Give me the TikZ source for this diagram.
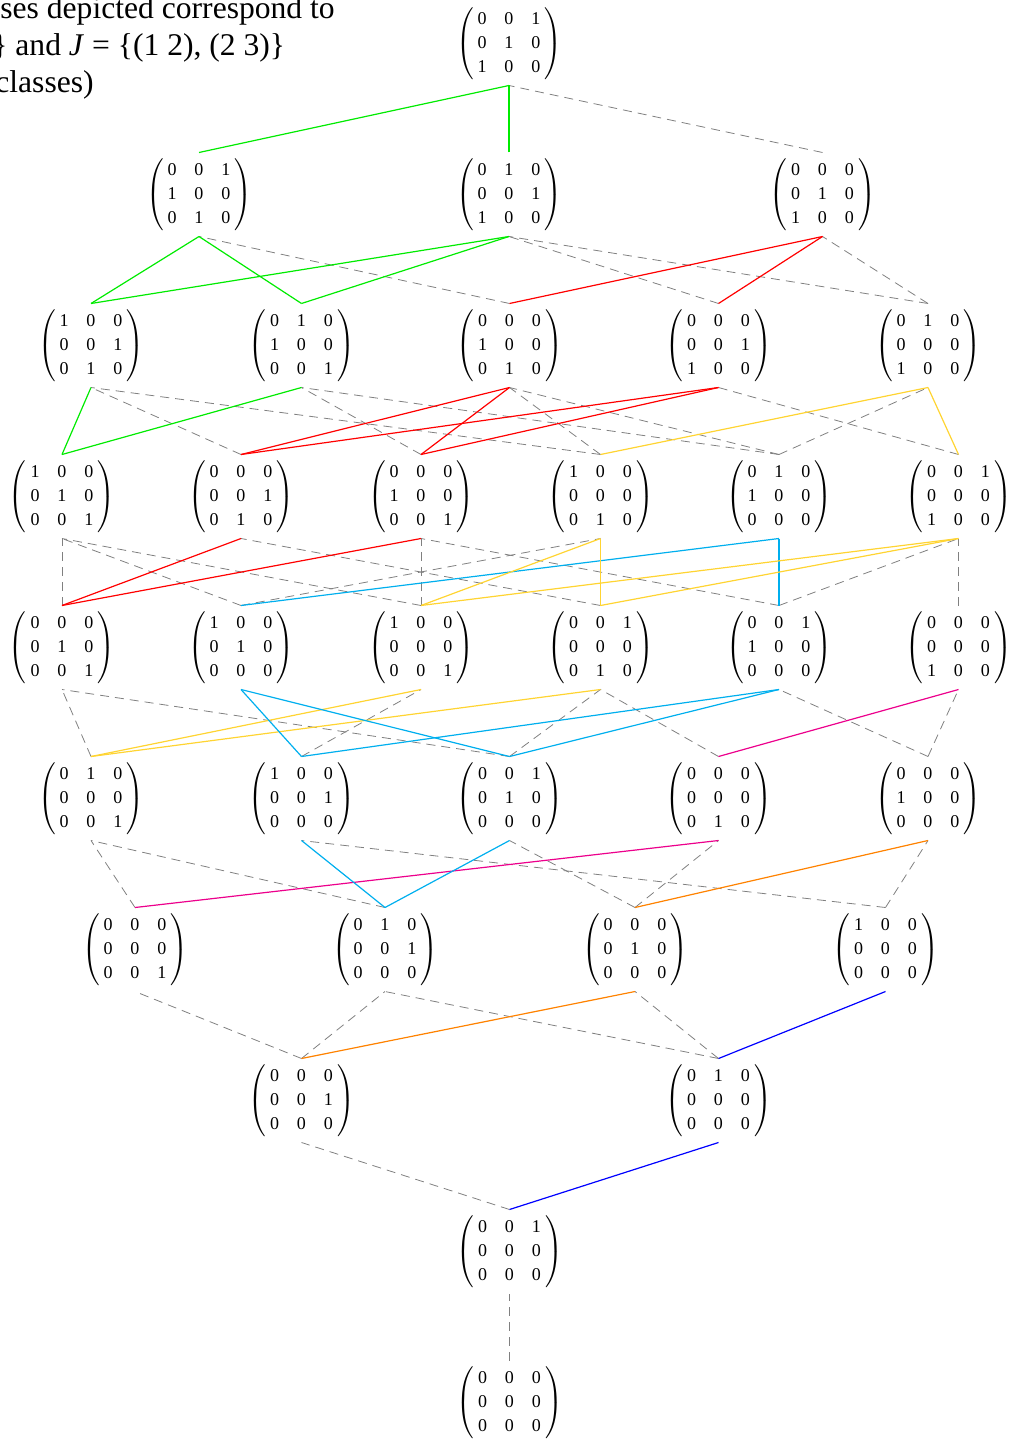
\documentclass[tikz,border=0pt]{standalone}
\usepackage{fontspec}
\setmainfont{Liberation Serif}
\definecolor{cgreen}{RGB}{0,235,0}
\definecolor{cred}{RGB}{255,0,0}
\definecolor{cyel}{RGB}{255,212,50}
\definecolor{ccyan}{RGB}{0,175,238}
\definecolor{cmag}{RGB}{236,0,140}
\definecolor{corange}{RGB}{255,130,0}
\definecolor{cblue}{RGB}{0,0,255}
\newcommand{\rmat}[9]{{\fontsize{9}{12}\selectfont$\left(\begin{tabular}{@{\hspace{2pt}}c@{\hspace{9pt}}c@{\hspace{9pt}}c@{\hspace{2pt}}}#1&#2&#3\\#4&#5&#6\\#7&#8&#9\end{tabular}\right)$}}
\tikzset{
  mat/.style={inner xsep=0pt, inner ysep=3pt, outer sep=0pt},
  dl/.style={gray, dash pattern=on 4.5pt off 3pt, line width=0.4pt},
  ce/.style={line width=0.6pt},
  title/.style={anchor=base west, inner sep=0pt, font=\fontsize{15.8}{18.5}\selectfont}
}
\begin{document}
\begin{tikzpicture}[x=0.5pt, y=-0.5pt]
\useasboundingbox (0,0) rectangle (1011,1439);
% title (clipped at the left edge)
\node[title] (t1) at (0,19) {ses depicted correspond to};
\node[title] (t2) at (-8,56) {\} and \textit{J} = \{(1 2), (2 3)\}};
\node[title] (t3) at (-5,93) {classes)};
% row 0
\node[mat] (r0) at (509,43.5) {\rmat{0}{0}{1}{0}{1}{0}{1}{0}{0}};
% row 1
\node[mat] (r1a) at (199,194.5) {\rmat{0}{0}{1}{1}{0}{0}{0}{1}{0}};
\node[mat] (r1b) at (509,194.5) {\rmat{0}{1}{0}{0}{0}{1}{1}{0}{0}};
\node[mat] (r1c) at (822.5,194.5) {\rmat{0}{0}{0}{0}{1}{0}{1}{0}{0}};
% row 2
\node[mat] (r2a) at (91,345.5) {\rmat{1}{0}{0}{0}{0}{1}{0}{1}{0}};
\node[mat] (r2b) at (301.5,345.5) {\rmat{0}{1}{0}{1}{0}{0}{0}{0}{1}};
\node[mat] (r2c) at (509.5,345.5) {\rmat{0}{0}{0}{1}{0}{0}{0}{1}{0}};
\node[mat] (r2d) at (718.5,345.5) {\rmat{0}{0}{0}{0}{0}{1}{1}{0}{0}};
\node[mat] (r2e) at (928,345.5) {\rmat{0}{1}{0}{0}{0}{0}{1}{0}{0}};
% row 3
\node[mat] (r3a) at (62,496.5) {\rmat{1}{0}{0}{0}{1}{0}{0}{0}{1}};
\node[mat] (r3b) at (241,496.5) {\rmat{0}{0}{0}{0}{0}{1}{0}{1}{0}};
\node[mat] (r3c) at (421,496.5) {\rmat{0}{0}{0}{1}{0}{0}{0}{0}{1}};
\node[mat] (r3d) at (600.5,496.5) {\rmat{1}{0}{0}{0}{0}{0}{0}{1}{0}};
\node[mat] (r3e) at (779,496.5) {\rmat{0}{1}{0}{1}{0}{0}{0}{0}{0}};
\node[mat] (r3f) at (958.5,496.5) {\rmat{0}{0}{1}{0}{0}{0}{1}{0}{0}};
% row 4
\node[mat] (r4a) at (62,647.5) {\rmat{0}{0}{0}{0}{1}{0}{0}{0}{1}};
\node[mat] (r4b) at (241,647.5) {\rmat{1}{0}{0}{0}{1}{0}{0}{0}{0}};
\node[mat] (r4c) at (421,647.5) {\rmat{1}{0}{0}{0}{0}{0}{0}{0}{1}};
\node[mat] (r4d) at (600.5,647.5) {\rmat{0}{0}{1}{0}{0}{0}{0}{1}{0}};
\node[mat] (r4e) at (779,647.5) {\rmat{0}{0}{1}{1}{0}{0}{0}{0}{0}};
\node[mat] (r4f) at (958.5,647.5) {\rmat{0}{0}{0}{0}{0}{0}{1}{0}{0}};
% row 5
\node[mat] (r5a) at (91,798.5) {\rmat{0}{1}{0}{0}{0}{0}{0}{0}{1}};
\node[mat] (r5b) at (301.5,798.5) {\rmat{1}{0}{0}{0}{0}{1}{0}{0}{0}};
\node[mat] (r5c) at (509.5,798.5) {\rmat{0}{0}{1}{0}{1}{0}{0}{0}{0}};
\node[mat] (r5d) at (718.5,798.5) {\rmat{0}{0}{0}{0}{0}{0}{0}{1}{0}};
\node[mat] (r5e) at (928,798.5) {\rmat{0}{0}{0}{1}{0}{0}{0}{0}{0}};
% row 6
\node[mat] (r6a) at (135,949.5) {\rmat{0}{0}{0}{0}{0}{0}{0}{0}{1}};
\node[mat] (r6b) at (385,949.5) {\rmat{0}{1}{0}{0}{0}{1}{0}{0}{0}};
\node[mat] (r6c) at (635,949.5) {\rmat{0}{0}{0}{0}{1}{0}{0}{0}{0}};
\node[mat] (r6d) at (885.5,949.5) {\rmat{1}{0}{0}{0}{0}{0}{0}{0}{0}};
% row 7
\node[mat] (r7a) at (301.5,1100.5) {\rmat{0}{0}{0}{0}{0}{1}{0}{0}{0}};
\node[mat] (r7b) at (718.5,1100.5) {\rmat{0}{1}{0}{0}{0}{0}{0}{0}{0}};
% row 8, 9
\node[mat] (r8) at (509.5,1251.5) {\rmat{0}{0}{1}{0}{0}{0}{0}{0}{0}};
\node[mat] (r9) at (509.5,1402.5) {\rmat{0}{0}{0}{0}{0}{0}{0}{0}{0}};
% dashed covering relations
\foreach \a/\b in {r1c/r0,
  r2c/r1a, r2d/r1b, r2e/r1b, r2e/r1c,
  r3b/r2a, r3c/r2b, r3d/r2a, r3d/r2c, r3e/r2b, r3e/r2c, r3e/r2e, r3f/r2d,
  r4a/r3a, r4b/r3a, r4b/r3d, r4c/r3a, r4c/r3c, r4d/r3b, r4e/r3c, r4e/r3f, r4f/r3f,
  r5a/r4a, r5b/r4c, r5c/r4a, r5c/r4d, r5d/r4d, r5e/r4e, r5e/r4f,
  r6a/r5a, r6b/r5a, r6c/r5c, r6c/r5d, r6d/r5b, r6d/r5e,
  r7a/r6a, r7a/r6b, r7b/r6b, r7b/r6c,
  r8/r7a, r9/r8}
  \draw[dl] (\a.north) -- (\b.south);
% coloured covering relations
\foreach \a/\b/\c in {r1a/r0/cgreen, r1b/r0/cgreen,
  r2a/r1a/cgreen, r2a/r1b/cgreen, r2b/r1a/cgreen, r2b/r1b/cgreen,
  r2c/r1c/cred, r2d/r1c/cred,
  r3a/r2a/cgreen, r3a/r2b/cgreen,
  r3b/r2c/cred, r3b/r2d/cred, r3c/r2c/cred, r3c/r2d/cred,
  r3d/r2e/cyel, r3f/r2e/cyel,
  r4a/r3b/cred, r4a/r3c/cred,
  r4b/r3e/ccyan, r4e/r3e/ccyan,
  r4c/r3d/cyel, r4c/r3f/cyel, r4d/r3d/cyel, r4d/r3f/cyel,
  r5a/r4c/cyel, r5a/r4d/cyel,
  r5b/r4b/ccyan, r5b/r4e/ccyan, r5c/r4b/ccyan, r5c/r4e/ccyan,
  r5d/r4f/cmag,
  r6a/r5d/cmag,
  r6b/r5b/ccyan, r6b/r5c/ccyan,
  r6c/r5e/corange,
  r7a/r6c/corange,
  r7b/r6d/cblue,
  r8/r7b/cblue}
  \draw[ce,\c] (\a.north) -- (\b.south);
\end{tikzpicture}
\end{document}
